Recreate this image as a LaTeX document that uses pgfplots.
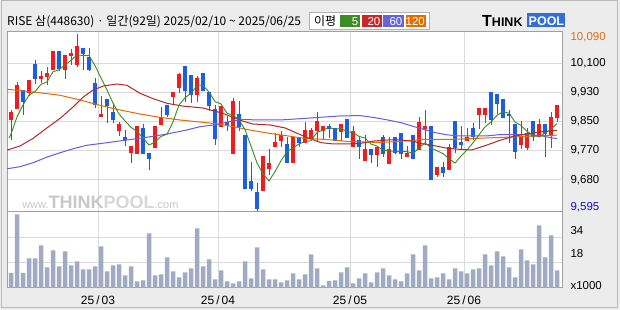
\documentclass[border=0pt]{standalone}
\usepackage{pgfplots}
\pgfplotsset{compat=1.18}
\usepackage{pgfplotstable}
\usepackage{fontspec}
\setmainfont{Liberation Sans}
\newfontfamily\kr{Noto Sans CJK KR}

\definecolor{bg}{RGB}{236,236,236}
\definecolor{upc}{RGB}{240,28,32}
\definecolor{dnc}{RGB}{30,92,224}
\definecolor{ma5}{RGB}{60,140,30}
\definecolor{ma20}{RGB}{178,40,40}
\definecolor{ma60}{RGB}{104,92,220}
\definecolor{ma120}{RGB}{222,110,0}
\definecolor{volc}{RGB}{160,170,194}
\definecolor{gridc}{RGB}{218,218,218}
\definecolor{framec}{RGB}{160,160,160}
\definecolor{wm}{RGB}{200,200,200}
\definecolor{wm2}{RGB}{215,215,215}
\definecolor{maxc}{RGB}{220,110,20}
\definecolor{minc}{RGB}{20,20,200}
\definecolor{logob}{RGB}{50,110,215}
\definecolor{lg5}{RGB}{60,140,40}
\definecolor{lg20}{RGB}{200,40,40}
\definecolor{lg60}{RGB}{100,100,220}
\definecolor{lg120}{RGB}{224,110,0}

% up (red) candles: index, open, high, low, close (pixel-height units of the price panel)
\pgfplotstableread{
i O H L C
0 92 102.3 71.7 100
1 103.3 130 103.3 126.7
3 119.3 132 115.7 132
5 133.3 140.7 128.7 136
6 135.3 144.7 126.7 139
7 142 160.7 142 160.7
9 142 156.7 133.3 156.7
10 156 163.3 146.7 159.3
11 147.3 178 145.3 166
15 94.7 116 94.7 98
18 81.3 90 76 88
20 59 66 48.7 66
21 58 86 58 86
24 64 86 64 86
25 87.3 105.3 87.3 94.7
27 115.3 120 107.3 120
28 124 139.3 119.3 138
31 117.3 136 110 134
35 85.3 106 85.3 106
37 58 114 58 110.7
42 21.3 56 21.3 56
43 42.7 63.3 37.3 49.3
44 64.7 78.7 64.7 70
45 71.3 80.7 64.7 77.3
47 49.3 74.7 49.3 74.7
49 69.3 90 69.3 82
50 74 84 74 82
51 81.3 100 70.7 90.7
52 81.3 86 73.3 86
55 80 88 71.3 88
57 64.7 86 64.7 80.7
59 51.3 76.7 51.3 62.7
61 57.3 64.7 44.7 64.7
63 48 74.7 48 63.3
66 55.3 66 55.3 59.3
68 62 94.7 62 90
69 83.3 102 68.7 86
71 37.3 44.7 35.3 44.7
73 42 68 42 64.7
76 70.7 84 70.7 74.7
78 96.7 104 83.3 104
79 96.7 104 88.7 104
85 66.7 91 62.7 74.7
86 64 84 62 78.7
88 74.7 93.3 74.7 88
90 76 100.3 64 94.7
91 94 106.7 90 106.7
}\up

% down (blue) candles
\pgfplotstableread{
i O H L C
2 122 122 97.3 110
4 148 152 128 133.3
8 160.7 161.3 140.7 142.7
12 164 164 142 158
13 154.7 164 140.7 142
14 128.7 134 104 106.7
16 112.7 112.7 89.3 106
17 100 108.7 89.3 92
19 75 82 66 71.7
22 84 88 58 58
23 59 59 42.3 53.3
26 106.7 106.7 95.3 96.7
29 146 146 110 121.3
30 137.3 137.3 108.7 117.3
32 138.7 138.7 121.3 121.3
33 120 120 101.3 106
34 103 106.7 67.3 73.3
36 90 96 81.3 87.3
38 98 111.3 80.7 84.7
39 77.3 77.3 23.3 23.3
40 31.3 50 21.3 23.3
41 20 29.3 1.3 3.3
46 68 74.7 49.3 49.3
48 74.7 74.7 65.3 68.7
53 86 88 74 83.3
54 84 84 70.7 70.7
56 93.3 93.3 74 74
58 72 74.7 53.3 64.7
60 62.7 62.7 49.3 57.3
62 74.7 76.7 55.3 58
64 74.7 74.7 58 59.3
65 78.7 78.7 53.3 58
67 76.7 76.7 53.3 53.3
70 86 86 32 32
72 44.7 50 35.3 39.3
74 90.7 90.7 58.7 64
75 70 86 63.3 67.3
77 84 88.7 72 75.3
80 120 120 87.3 92
81 118 118 98 108
82 112.7 112.7 94 94
83 98 102 69.3 96
84 88 88 53.3 60
87 91.3 91.3 71.3 74.7
89 88 88 55.3 78
}\down

% volume (pixel-height units of the volume panel)
\pgfplotstableread{
i v
0 15
1 73.7
2 15
3 29.7
4 29.7
5 42.7
6 20.7
7 37.7
8 21.7
9 36.7
10 22.7
11 26.7
12 18.7
13 18.7
14 21.7
15 41.7
16 16.7
17 22.7
18 23.7
19 12.7
20 21.7
21 6.7
22 7.7
23 54.7
24 12.7
25 13.7
26 30.7
27 16.7
28 10.7
29 15.7
30 19.7
31 59.7
32 21.7
33 28.7
34 8.7
35 17.7
36 6.7
37 4.7
38 6.7
39 26.7
40 9.7
41 40.7
42 18.7
43 8.7
44 8.7
45 5.7
46 7.7
47 14.7
48 8.7
49 13.7
50 33.7
51 19.7
52 2.7
53 7
54 7.7
55 15.7
56 20.7
57 4.7
58 9.7
59 14.7
60 5.7
61 15.7
62 19.7
63 12.7
64 8.7
65 6.7
66 14.7
67 33.7
68 17.7
69 42.7
70 9.7
71 10.7
72 14.7
73 8.7
74 19.7
75 16.7
76 14.7
77 18.7
78 19.7
79 33.7
80 22.7
81 36.7
82 31.7
83 20.7
84 10.7
85 38.7
86 27.7
87 23.7
88 62.7
89 30.7
90 52.7
91 17.7
}\vol

\begin{document}
\begin{tikzpicture}
\begin{scope}[x=1pt,y=1pt]
\fill[bg] (0,0) rectangle (620,310);
\draw[gray!55, line width=1pt] (1,2) rectangle (617,309);
% title
\node[anchor=base west, inner sep=0] at (7,284) {\kr\fontsize{12}{14}\selectfont RISE 삼(448630) · 일간(92일) 2025/02/10 \textasciitilde{} 2025/06/25};
% MA legend box
\draw[gray!60, fill=white, line width=0.8pt] (309,280.7) rectangle (429,297.3);
\node[anchor=base west, inner sep=0] at (314,284) {\kr\fontsize{12}{14}\selectfont 이평};
\fill[lg5] (340,282.7) rectangle (360,295.3);
\fill[lg20] (361.7,282.7) rectangle (381.7,295.3);
\fill[lg60] (383,282.7) rectangle (404,295.3);
\fill[lg120] (405.7,282.7) rectangle (425.7,295.3);
\node[anchor=base east, inner sep=0, text=white] at (358.5,284.5) {\fontsize{11.5}{13}\selectfont 5};
\node[anchor=base east, inner sep=0, text=white] at (380.5,284.5) {\fontsize{11.5}{13}\selectfont 20};
\node[anchor=base east, inner sep=0, text=white] at (402.5,284.5) {\fontsize{11.5}{13}\selectfont 60};
\node[anchor=base east, inner sep=0, text=white] at (425,284.5) {\fontsize{11.5}{13}\selectfont 120};
% logo
\node[anchor=base west, inner sep=0] at (482,283.5) {\bfseries\fontsize{16}{16}\selectfont T\fontsize{12.5}{13}\selectfont HINK};
\fill[logob] (527,282.5) rectangle (565,297);
\node[anchor=base west, inner sep=0, text=white] at (528.5,284.5) {\bfseries\fontsize{12.5}{13}\selectfont POOL};
\end{scope}

% ---------------- price panel ----------------
\begin{axis}[
  at={(7pt,98pt)}, anchor=south west, scale only axis,
  width=555pt, height=180pt,
  xmin=-0.6667, xmax=91.8333, ymin=0, ymax=180,
  axis background/.style={fill=white},
  axis line style={draw=framec, line width=1pt},
  xtick={14.5,34.5,56.5,75.5}, xticklabels={},
  ytick={32,61.3,90.3,119.5,148.7},
  yticklabels={{9,680},{9,770},{9,850},{9,930},{10,100}},
  extra y ticks={5,175},
  extra y tick labels={{\textcolor{minc}{9,595}},{\textcolor{maxc}{10,090}}},
  extra y tick style={grid=none},
  yticklabel pos=right,
  grid=major, major grid style={draw=gridc, line width=1pt},
  major tick length=0pt,
  tick label style={font=\fontsize{11.5}{13}\selectfont},
  yticklabel style={anchor=west, xshift=5pt},
]
% watermark
\node[anchor=base west, inner sep=0] at (axis cs:1.85,3) {\color{wm}\fontsize{11}{12}\selectfont www.\bfseries\fontsize{18}{18}\selectfont THINK\color{wm2}POOL\mdseries\color{wm}\fontsize{11}{12}\selectfont .com};
% wicks
\addplot[draw=none, mark=none, forget plot, error bars/.cd, y dir=plus, y explicit, error mark=none,
  error bar style={draw=upc, line width=1pt}]
  table[x=i, y=L, y error plus expr=\thisrow{H}-\thisrow{L}] {\up};
\addplot[draw=none, mark=none, forget plot, error bars/.cd, y dir=plus, y explicit, error mark=none,
  error bar style={draw=dnc, line width=1pt}]
  table[x=i, y=L, y error plus expr=\thisrow{H}-\thisrow{L}] {\down};
% bodies
\addplot[draw=none, mark=none, forget plot, error bars/.cd, y dir=plus, y explicit, error mark=none,
  error bar style={draw=upc, line width=4.6pt}]
  table[x=i, y=O, y error plus expr=\thisrow{C}-\thisrow{O}] {\up};
\addplot[draw=none, mark=none, forget plot, error bars/.cd, y dir=plus, y explicit, error mark=none,
  error bar style={draw=dnc, line width=4.6pt}]
  table[x=i, y=C, y error plus expr=\thisrow{O}-\thisrow{C}] {\down};
% MA 120
\addplot[ma120, line width=1pt, mark=none] coordinates {
(-0.6,122.7) (3.7,120) (8.2,116.7) (11.5,112) (14.8,106.7) (18.2,102) (21.5,98) (24.8,94.7) (28.2,92) (31.5,90) (34.5,88) (36.5,86) (39.8,82) (43.2,78.5) (45.7,76.5) (48.5,74) (53.8,72) (56.2,70.5) (61.5,69.5) (67.2,71.5) (68,72.5) (73.5,72.7) (79.2,74) (84.7,75.3) (90.2,76.7) (91,76.8)};
% MA 60
\addplot[ma60, line width=1pt, mark=none] coordinates {
(-0.6,43.3) (1.5,45.3) (3.7,49.3) (5.9,54.7) (8.2,59.3) (10.4,63.3) (12.6,66.7) (16,69.3) (19.3,72) (22.6,74.7) (26,78) (29.3,82) (31.5,85.3) (34.2,87.3) (36.5,90.5) (38.7,92.5) (41.5,92) (44.8,92) (48.2,93.3) (51.5,94.7) (55.2,96.2) (58.3,96.3) (60.5,94.5) (62.8,92) (65,89.3) (67.2,85.3) (68,84) (70.2,80) (72.5,77.3) (74.7,76) (76.8,76) (79.2,76) (81.3,77.3) (83.5,77.3) (85.8,77.3) (88,76.7) (90.2,74) (91,73.5)};
% MA 20
\addplot[ma20, line width=1pt, mark=none] coordinates {
(-0.6,62) (1.5,66) (3.7,73.7) (5.9,83.7) (8.2,93.7) (10.4,105.3) (12.1,115.3) (13.7,122) (15.4,126) (17.6,128) (19.3,126.7) (21.5,118.7) (23.7,113.3) (26,108.7) (28.5,106) (32,104) (35.3,98.7) (38.7,90.7) (40.3,88) (43.2,87) (45.7,84) (47.2,80) (49.5,74) (51.7,69.3) (53.8,68) (56.2,68) (58.3,68.7) (60.5,71) (62.8,72) (65,72) (67.2,70.7) (68,68.7) (70.2,66.7) (72.5,64) (74.7,62.7) (76.8,62) (79.2,66.7) (81.3,71.3) (83.5,75.3) (85.8,78) (88,80) (90.2,81.3) (91,81.5)};
% MA 5
\addplot[ma5, line width=0.9pt, mark=none] coordinates {
(-0.3,74) (0,78) (1,95) (2,107) (3,117) (4,120.4) (5,127.6) (6,130.1) (7,140.2) (8,142.3) (9,147) (10,151.7) (11,157.1) (12,156.5) (13,156.4) (14,146.4) (15,134.1) (16,122.1) (17,108.9) (18,98.1) (19,91.1) (20,84.7) (21,80.7) (22,73.9) (23,67) (24,69.9) (25,75.6) (26,77.7) (27,90.1) (28,107.1) (29,114.1) (30,118.7) (31,126.1) (32,126.4) (33,120) (34,110.4) (35,108.1) (36,98.8) (37,96.7) (38,92.4) (39,82.4) (40,65.9) (41,49.1) (42,38.1) (43,31) (44,40.4) (45,51.2) (46,60.4) (47,64.1) (48,68) (49,70.4) (50,71.3) (51,79.6) (52,81.9) (53,84.8) (54,82.5) (55,83.7) (56,80.4) (57,79.3) (58,75.6) (59,74) (60,67.9) (61,66) (62,61.5) (63,61.2) (64,60.5) (65,60.7) (66,60.4) (67,58.6) (68,64) (69,69.3) (70,64.1) (71,61.2) (72,58.4) (73,53.3) (74,48.9) (75,56) (76,62) (77,69.2) (78,77.1) (79,85.1) (80,90) (81,96.7) (82,100.4) (83,98.8) (84,90) (85,86.5) (86,80.7) (87,76.8) (88,75.2) (89,78.8) (90,82.8) (91,88.4)};
\end{axis}

% ---------------- volume panel ----------------
\begin{axis}[
  at={(7pt,22pt)}, anchor=south west, scale only axis,
  width=555pt, height=76pt,
  xmin=-0.6667, xmax=91.8333, ymin=0, ymax=76,
  axis background/.style={fill=white},
  axis line style={draw=framec, line width=1pt},
  xtick={14.5,34.5,56.5,75.5},
  xticklabels={25{\,}/{\,}03,25{\,}/{\,}04,25{\,}/{\,}05,25{\,}/{\,}06},
  ytick={25.7,50.7}, yticklabels={},
  extra y ticks={2.3,34.5,57.5},
  extra y tick labels={x1000,18,34},
  extra y tick style={grid=none},
  yticklabel pos=right,
  grid=major, major grid style={draw=gridc, line width=1pt},
  major tick length=0pt,
  tick label style={font=\fontsize{11.5}{13}\selectfont},
  yticklabel style={anchor=west, xshift=5pt},
  xticklabel style={yshift=-4pt, font=\fontsize{12}{13}\selectfont},
]
\addplot[ybar, bar width=4.5pt, bar shift=0pt, fill=volc, draw=none] table[x=i, y=v] {\vol};
\end{axis}
\end{tikzpicture}
\end{document}
